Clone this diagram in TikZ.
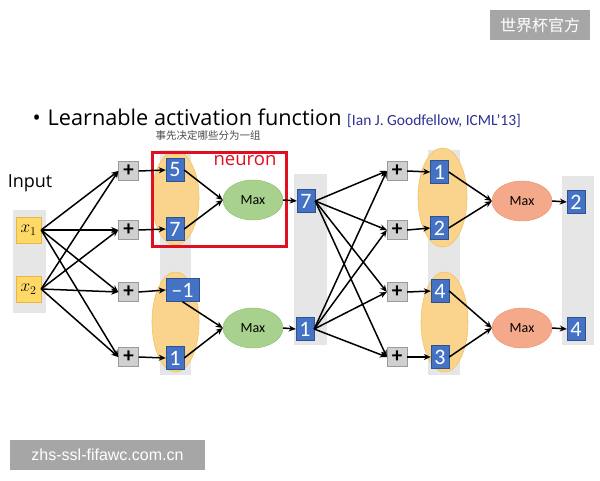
\documentclass[tikz,border=0pt]{standalone}
\usepackage{fontspec}
\setmainfont{Open Sans}
\newfontfamily\calfont{Carlito}
\newfontfamily\cjkfont{Noto Sans CJK SC}
\newfontfamily\wmfont{Liberation Sans}
\usetikzlibrary{arrows.meta,shapes.geometric}

\definecolor{colgray}{HTML}{E6E6E6}
\definecolor{grouporange}{HTML}{FAD48C}
\definecolor{grouporangedark}{HTML}{F2C262}
\definecolor{inyellow}{HTML}{FFD966}
\definecolor{inborder}{HTML}{E9B44C}
\definecolor{plusgray}{HTML}{D0D0D0}
\definecolor{plusborder}{HTML}{9A9A9A}
\definecolor{boxblue}{HTML}{4472C4}
\definecolor{boxbluedark}{HTML}{2F528F}
\definecolor{maxgreen}{HTML}{A9D18E}
\definecolor{greenborder}{HTML}{8CBB6E}
\definecolor{maxsalmon}{HTML}{F4A98A}
\definecolor{salmonborder}{HTML}{E8906A}
\definecolor{neuronred}{HTML}{E01020}
\definecolor{citeblue}{HTML}{2E3192}
\definecolor{wmgray}{HTML}{A6A6A6}

\begin{document}
\begin{tikzpicture}[x=1pt,y=-1pt,
	colbg/.style={fill=colgray},
	group/.style={fill=grouporange, draw=grouporangedark, line width=0.6pt},
	inbox/.style={draw=inborder, fill=inyellow, minimum width=25, minimum height=26, inner sep=0, font=\fontsize{17}{17}\selectfont},
	plusbox/.style={draw=plusborder, fill=plusgray, minimum width=20, minimum height=19, inner sep=0, font=\calfont\bfseries\fontsize{21}{21}\selectfont},
	numbox/.style={draw=boxbluedark, fill=boxblue, text=white, minimum width=18, minimum height=23, inner sep=1, font=\calfont\fontsize{22}{22}\selectfont},
	maxg/.style={ellipse, draw=greenborder, fill=maxgreen, minimum width=60, minimum height=40, inner sep=0, font=\calfont\fontsize{14}{14}\selectfont},
	maxo/.style={maxg, draw=salmonborder, fill=maxsalmon},
	link/.style={-{Stealth[length=7pt,width=6pt]}, line width=1.5pt},
	wmark/.style={fill=wmgray, text=white, inner sep=0},
]
	\useasboundingbox (0,0) rectangle (600,480);
	\fill[white] (0,0) rectangle (600,480);

	% title
	\node[anchor=base west, font=\fontsize{21.7}{25}\selectfont] (title) at (29,125) {\textbullet\hspace{7pt}Learnable activation function};
	\node[anchor=base west, text=citeblue, font=\calfont\fontsize{15.5}{17}\selectfont, inner sep=0] (cite) at (347,125) {[Ian J. Goodfellow, ICML’13]};
	\node[text=black!70, font=\cjkfont\fontsize{10.5}{12}\selectfont, inner sep=0] (note) at (208,135) {事先决定哪些分为一组};
	\node[font=\fontsize{18}{20}\selectfont, inner sep=0] (input) at (30,183) {Input};

	% gray columns and groups
	\fill[colbg] (13,210) rectangle (46,313);
	\fill[colbg] (160,150) rectangle (191,375);
	\fill[colbg] (294,174) rectangle (327,345);
	\fill[colbg] (428,150) rectangle (460,375);
	\fill[colbg] (562,176) rectangle (594,345);
	\draw[group] (175.5,198) ellipse (23.5 and 47);
	\draw[group] (175.5,322) ellipse (23.5 and 50);
	\draw[group] (442.5,197.5) ellipse (24.5 and 49.5);
	\draw[group] (444.5,322) ellipse (23.5 and 50);

	% nodes
	\node[inbox] (x1) at (28.5,230) {$x_1$};
	\node[inbox] (x2) at (28.5,289) {$x_2$};
	\foreach \i/\y in {1/171,2/230,3/292,4/357} {
		\node[plusbox] (p\i) at (128.5,\y) {+};
		\node[plusbox] (q\i) at (397,\y) {+};
	}
	\node[numbox] (n1) at (175,170) {5};
	\node[numbox] (n2) at (175,229) {7};
	\node[numbox, minimum width=33] (n3) at (182.5,290) {–1};
	\node[numbox] (n4) at (175,358) {1};
	\node[maxg] (m1) at (253,200) {Max};
	\node[maxg] (m2) at (253,328) {Max};
	\node[numbox] (h1) at (306,201) {7};
	\node[numbox] (h2) at (305,329) {1};
	\node[numbox] (r1) at (439.5,172) {1};
	\node[numbox] (r2) at (439.5,228) {2};
	\node[numbox] (r3) at (440,291) {4};
	\node[numbox] (r4) at (440,357) {3};
	\node[maxo] (s1) at (522,201) {Max};
	\node[maxo] (s2) at (522,328) {Max};
	\node[numbox] (o1) at (576,202) {2};
	\node[numbox] (o2) at (576,329) {4};

	% red neuron frame
	\draw[neuronred, line width=3pt] (152,152) rectangle (286,246);
	\node[text=neuronred, font=\fontsize{18.5}{20}\selectfont, inner sep=0] (neuron) at (245,161) {neuron};

	% connections
	\foreach \i in {1,...,4} {
		\draw[link] (x1.east) -- (p\i.west);
		\draw[link] (x2.east) -- (p\i.west);
		\draw[link] (h1.east) -- (q\i.west);
		\draw[link] (h2.east) -- (q\i.west);
		\draw[link] (p\i.east) -- (n\i.west);
		\draw[link] (q\i.east) -- (r\i.west);
	}
	\draw[link] (n1.east) -- (m1.west);
	\draw[link] (n2.east) -- (m1.west);
	\draw[link] (n3.south) -- (m2.west);
	\draw[link] (n4.east) -- (m2.west);
	\draw[link] (m1.east) -- (h1.west);
	\draw[link] (m2.east) -- (h2.west);
	\draw[link] (r1.east) -- (s1.west);
	\draw[link] (r2.east) -- (s1.west);
	\draw[link] (r3.east) -- (s2.west);
	\draw[link] (r4.east) -- (s2.west);
	\draw[link] (s1.east) -- (o1.west);
	\draw[link] (s2.east) -- (o2.west);

	% overlay marks
	\node[wmark, minimum width=100, minimum height=30, font=\cjkfont\fontsize{16}{16}\selectfont] (wmtop) at (540,25) {世界杯官方};
	\node[wmark, minimum width=195, minimum height=30, font=\wmfont\fontsize{16}{16}\selectfont] (wmbot) at (107.5,455) {zhs-ssl-fifawc.com.cn};
\end{tikzpicture}
\end{document}
